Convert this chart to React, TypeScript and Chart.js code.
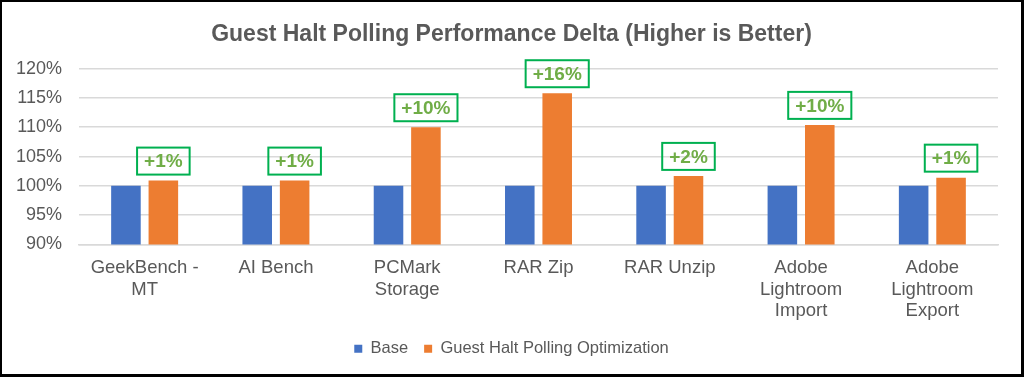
import React, { useEffect, useRef } from "react";
import { Chart, registerables } from "chart.js";

Chart.register(...registerables);

const categories: string[][] = [
  ["GeekBench -", "MT"],
  ["AI Bench"],
  ["PCMark", "Storage"],
  ["RAR Zip"],
  ["RAR Unzip"],
  ["Adobe", "Lightroom", "Import"],
  ["Adobe", "Lightroom", "Export"],
];
const baseValues: number[] = [100, 100, 100, 100, 100, 100, 100];
const optimizedValues: number[] = [100.9, 100.9, 110.0, 115.8, 101.7, 110.4, 101.4];
const deltaLabels: string[] = ["+1%", "+1%", "+10%", "+16%", "+2%", "+10%", "+1%"];
const yTicks: number[] = [90, 95, 100, 105, 110, 115, 120];

const TITLE = "Guest Halt Polling Performance Delta (Higher is Better)";
const FONT = "Arial, 'Liberation Sans', sans-serif";

const deltaBoxPlugin = {
  id: "deltaBoxes",
  afterDatasetsDraw(chart: any) {
    const meta = chart.getDatasetMeta(1);
    const ctx = chart.ctx;
    ctx.save();
    ctx.font = `bold 19px ${FONT}`;
    ctx.textAlign = "center";
    ctx.textBaseline = "middle";
    meta.data.forEach((bar: any, i: number) => {
      const text = deltaLabels[i];
      const w = ctx.measureText(text).width + 14;
      const h = 27;
      const bottom = bar.y - 6;
      const top = bottom - h;
      ctx.strokeStyle = "#00B050";
      ctx.lineWidth = 2;
      ctx.strokeRect(bar.x - w / 2, top, w, h);
      ctx.fillStyle = "#70AD47";
      ctx.fillText(text, bar.x, top + h / 2 + 1);
    });
    ctx.restore();
  },
};

export default function App() {
  const canvasRef = useRef<HTMLCanvasElement | null>(null);

  useEffect(() => {
    if (!canvasRef.current) return;
    const chart = new Chart(canvasRef.current, {
      type: "bar",
      data: {
        labels: categories,
        datasets: [
          {
            label: "Base",
            data: baseValues,
            backgroundColor: "#4472C4",
            categoryPercentage: 0.57,
            barPercentage: 0.79,
          },
          {
            label: "Guest Halt Polling Optimization",
            data: optimizedValues,
            backgroundColor: "#ED7D31",
            categoryPercentage: 0.57,
            barPercentage: 0.79,
          },
        ],
      },
      options: {
        responsive: false,
        animation: false,
        layout: { padding: { left: 0, right: 0, top: 0, bottom: 7 } },
        plugins: {
          title: {
            display: true,
            text: TITLE,
            color: "#595959",
            font: { family: FONT, size: 23, weight: "bold" },
            padding: { top: 19, bottom: 20 },
          },
          legend: {
            position: "bottom",
            labels: {
              color: "#595959",
              font: { family: FONT, size: 16.5 },
              boxWidth: 8,
              boxHeight: 8,
              padding: 16,
            },
          },
          tooltip: { enabled: false },
        },
        scales: {
          x: {
            grid: { display: false, drawTicks: false },
            border: { display: true, color: "#D9D9D9", width: 1.5 },
            ticks: {
              color: "#595959",
              font: { family: FONT, size: 18.5, lineHeight: 1.16 },
              padding: 13,
              maxRotation: 0,
              autoSkip: false,
            },
            afterFit: (s: any) => {
              s.height = 80;
            },
          },
          y: {
            min: 90,
            max: 120,
            afterBuildTicks: (s: any) => {
              s.ticks = yTicks.map((v) => ({ value: v }));
            },
            grid: { color: "#D9D9D9", lineWidth: 1.5, drawTicks: false },
            border: { display: false },
            ticks: {
              color: "#595959",
              font: { family: FONT, size: 18 },
              padding: 17,
              callback: (v: any) => `${v}%`,
            },
            afterFit: (s: any) => {
              s.width = 77;
            },
          },
          ySpacer: {
            position: "right",
            min: 90,
            max: 120,
            grid: { display: false, drawTicks: false },
            border: { display: false },
            ticks: { display: false },
            afterFit: (s: any) => {
              s.width = 23;
            },
          },
        },
      },
      plugins: [deltaBoxPlugin],
    });
    return () => chart.destroy();
  }, []);

  return (
    <div
      style={{
        position: "absolute",
        top: 0,
        left: 0,
        width: 1024,
        height: 377,
        boxSizing: "border-box",
        borderLeft: "2px solid #000",
        borderTop: "2px solid #000",
        borderRight: "3px solid #000",
        borderBottom: "3px solid #000",
        background: "#fff",
      }}
    >
      <canvas ref={canvasRef} width={1019} height={372} style={{ display: "block" }} />
    </div>
  );
}
